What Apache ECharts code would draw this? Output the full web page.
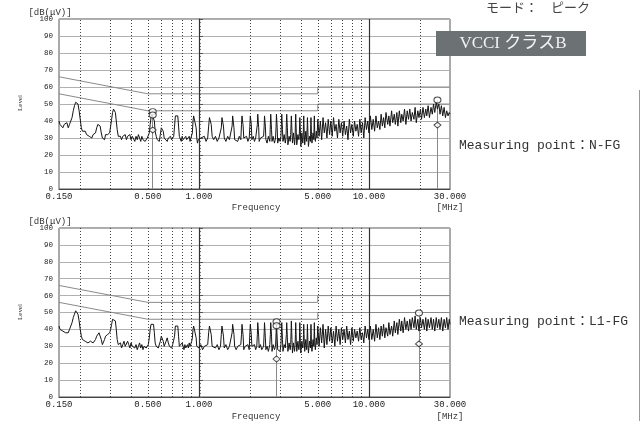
<!DOCTYPE html>
<html><head><meta charset="utf-8">
<script src="https://cdn.jsdelivr.net/npm/echarts@6/dist/echarts.min.js"></script>
<style>html,body{margin:0;padding:0;background:#fff}#c{width:643px;height:421px}</style>
</head><body><div id="c"></div>
<script>
// ---- axis ticks / limits ----
const tickFreqs = [0.15, 0.5, 1, 5, 10, 30];
const gridFreqsDotted = [0.2,0.3,0.4,0.5,0.6,0.7,0.8,0.9,2,3,4,5,6,7,8,9,20];
const gridFreqsSolid = [1, 10];
const limitQP = [[0.15,66],[0.5,56],[5,56],[5,60],[30,60]];
const limitAV = [[0.15,56],[0.5,46],[5,46],[5,50],[30,50]];

// ---- sweep frequencies (MHz) ----
const freqLow = [
0.150,0.152,0.155,0.158,0.161,0.164,0.167,0.170,0.173,0.176,
0.179,0.182,0.185,0.188,0.191,0.194,0.197,0.200,0.203,0.206,
0.210,0.214,0.218,0.222,0.226,0.230,0.234,0.238,0.242,0.246,
0.250,0.254,0.258,0.262,0.266,0.270,0.274,0.278,0.282,0.286,
0.290,0.294,0.298,0.302,0.306,0.310,0.314,0.318,0.322,0.326,
0.330,0.335,0.340,0.345,0.350,0.356,0.362,0.368,0.374,0.380,
0.386,0.392,0.398,0.405,0.412,0.419,0.426,0.433,0.440,0.447,
0.454,0.461,0.468,0.475,0.482,0.489,0.496,0.503,0.510,0.516,
0.522,0.528,0.534,0.540,0.546,0.552,0.560,0.568,0.576,0.584,
0.592,0.600,0.608,0.616,0.624,0.632,0.640,0.650,0.660,0.670,
0.680,0.690,0.700,0.710,0.718,0.726,0.734,0.742,0.750,0.758,
0.766,0.776,0.786,0.796,0.806,0.816,0.826,0.836,0.846,0.856,
0.866,0.876,0.886,0.896,0.906,0.914,0.922,0.930,0.938,0.946,
0.954,0.962,0.970,0.980,0.990];
const freqComb = [
1.000,1.025,1.050,1.075,1.100,1.125,
1.140,1.152,1.168,1.180,1.195, 1.220,1.250,1.280,1.310,1.338,
1.353,1.365,1.381,1.393,1.408, 1.440,1.475,1.510,1.550,
1.566,1.578,1.594,1.606,1.621, 1.655,1.690,1.725,1.762,
1.779,1.791,1.807,1.819,1.834, 1.870,1.905,1.940,1.975,
1.992,2.004,2.020,2.032,2.047, 2.085,2.120,2.155,2.188,
2.205,2.217,2.233,2.245,2.260, 2.300,2.340,2.400,
2.418,2.430,2.446,2.458,2.475, 2.515,2.560,2.610,
2.630,2.643,2.659,2.672,2.690, 2.730,2.780,2.822,
2.843,2.856,2.872,2.885,2.905, 2.950,3.000,3.035,
3.055,3.069,3.085,3.099,3.120, 3.170,3.220,3.250,
3.268,3.282,3.298,3.312,3.335, 3.390,3.440,3.465,
3.481,3.495,3.511,3.525,3.548, 3.600,3.650,3.678,
3.694,3.708,3.724,3.738,3.762, 3.820,3.870,3.891,
3.907,3.921,3.937,3.951,3.975, 4.030,4.080,4.104,
4.120,4.134,4.150,4.164,4.190, 4.250,4.300,4.317,
4.333,4.347,4.363,4.377,4.405, 4.470,4.530,
4.546,4.560,4.576,4.590,4.620, 4.690,4.743,
4.759,4.773,4.789,4.803,4.840, 4.900,4.950];
const freqHigh = [
5.00,5.09,5.18,5.27,5.37,5.46,5.56,5.66,5.76,5.87,
5.97,6.08,6.19,6.30,6.41,6.53,6.65,6.77,6.89,7.01,
7.14,7.27,7.40,7.53,7.67,7.80,7.94,8.09,8.23,8.38,
8.53,8.69,8.84,9.00,9.17,9.33,9.50,9.67,9.85,10.0,
10.2,10.4,10.6,10.8,11.0,11.2,11.4,11.6,11.8,12.0,
12.2,12.4,12.6,12.9,13.1,13.3,13.6,13.8,14.1,14.3,
14.6,14.8,15.1,15.4,15.6,15.9,16.2,16.5,16.8,17.1,
17.4,17.7,18.0,18.4,18.7,19.0,19.4,19.7,20.1,20.4,
20.8,21.2,21.6,21.9,22.3,22.7,23.2,23.6,24.0,24.4,
24.9,25.3,25.8,26.2,26.7,27.2,27.7,28.2,28.7,29.2,
29.7,30.0];

// ---- N-FG levels dB(uV) ----
const nfgLow = [
40,38,39,36,38,37,39,36,38,39,
42,46,49,51,52,50,46,41,36,34,
33,34,32,33,31,32,30,32,31,33,
36,38,39,37,33,30,31,29,32,31,
32,31,33,37,41,45,47,47,45,40,
35,31,30,31,29,31,30,32,29,31,
30,32,29,31,30,28,31,29,32,30,
28,31,29,30,28,29,30,29,33,38,
42,44,45,44,40,34,31,29,30,28,
32,36,37,34,30,29,31,28,30,29,
31,29,30,31,37,43,44,44,43,37,
31,30,28,31,29,30,28,31,29,28,
30,31,28,30,30,33,40,43,44,44,
42,36,30,27,29];
const nfgComb = [
28,30,29,31,28,30,
37,42,43,38,31, 29,31,28,30,29,
36,42,43,37,30, 28,31,29,30,
37,43,42,36,29, 30,28,31,29,
38,43,43,37,30, 29,31,28,30,
37,43,44,38,29, 31,28,30,29,
38,44,43,36,28, 30,29,31,
37,43,44,37,29, 27,31,28,
38,44,44,35,28, 31,27,30,
37,44,45,36,27, 30,28,31,
38,44,43,35,28, 32,27,30,
39,44,45,36,26, 31,28,32,
38,43,44,34,27, 33,26,30,
39,44,43,33,26, 32,29,31,
37,42,43,34,25, 33,27,30,
38,43,42,32,26, 34,28,29,
37,42,43,33,25, 31,28,
38,42,41,32,27, 33,29,
39,43,42,31,28, 34,30];
const nfgHigh = [
41,31,40,29,42,33,39,30,41,32,
40,31,42,34,38,30,41,33,39,31,
40,32,37,29,41,33,38,31,40,34,
38,31,41,33,39,30,42,35,40,33,
43,35,41,34,43,36,40,35,44,37,
42,36,45,38,43,37,46,39,44,38,
45,37,46,39,44,40,47,38,46,41,
47,40,45,41,48,39,46,42,47,41,
48,42,47,43,49,42,48,44,50,45,
51,47,50,44,49,43,48,42,46,43,
45,44];

// ---- L1-FG levels dB(uV) ----
const l1Low = [
42,40,41,39,40,38,37,38,40,42,
44,47,49,51,51,49,45,40,36,34,
34,33,34,32,33,33,34,32,33,34,
36,37,38,37,34,31,32,34,36,37,
37,38,38,40,43,46,47,47,45,40,
34,31,30,32,29,31,33,30,31,33,
31,29,32,30,31,29,31,28,30,32,
29,31,28,30,29,29,30,31,35,40,
43,44,44,43,38,32,30,31,29,30,
33,36,37,33,30,31,33,35,32,30,
30,29,31,30,36,42,43,43,42,36,
30,31,29,32,30,28,31,29,30,31,
29,32,30,31,33,35,40,42,43,43,
41,35,30,29,30];
const l1Comb = [
29,31,28,30,29,31,
38,42,42,37,30, 30,29,31,28,30,
37,42,43,36,29, 31,28,30,29,
38,43,43,37,30, 28,30,29,31,
37,43,42,36,28, 30,29,31,28,
38,43,43,37,30, 29,31,28,30,
37,44,44,36,29, 31,28,30,
38,44,43,35,28, 30,27,31,
37,44,45,36,27, 31,28,30,
38,44,45,35,28, 29,27,31,
38,44,44,34,27, 31,29,30,
37,44,45,35,27, 32,28,31,
38,45,44,34,26, 32,27,31,
37,44,45,33,27, 33,28,30,
38,44,43,32,26, 33,29,31,
37,43,44,33,27, 34,28,30,
38,43,42,32,26, 33,29,
37,43,44,31,27, 34,30,
38,44,43,32,28, 35,31];
const l1High = [
42,30,41,32,43,29,40,31,42,33,
41,32,39,30,42,33,40,31,41,34,
40,32,42,34,39,31,41,33,40,35,
39,33,41,34,38,32,42,35,40,34,
42,34,40,33,43,35,41,34,42,36,
43,35,41,36,44,37,42,36,45,38,
44,37,46,39,45,38,47,40,45,39,
46,40,47,41,48,40,46,39,47,41,
46,40,47,39,46,41,47,40,46,39,
47,41,46,40,47,39,46,41,47,40,
46,43];

// ---- markers ----
const nfgQpMarks = [[0.534,45.5],[0.534,43.5],[25.3,52.4]];
const nfgAvMarks = [[0.534,34.7],[25.3,37.6]];
const l1QpMarks = [[2.86,44.5],[2.86,42.2],[19.7,49.7]];
const l1AvMarks = [[2.86,22.5],[19.7,31.4]];

// ---- build ----
function zip(f, v){ if (f.length !== v.length) console.warn('len', f.length, v.length); return f.map((x,i)=>[x, v[i]]); }
const nfgData = zip(freqLow,nfgLow).concat(zip(freqComb,nfgComb), zip(freqHigh,nfgHigh));
const l1Data = zip(freqLow,l1Low).concat(zip(freqComb,l1Comb), zip(freqHigh,l1High));

function markerLines(marks){
  const top = {};
  marks.forEach(m => { top[m[0]] = Math.max(top[m[0]] || 0, m[1]); });
  return Object.keys(top).map(f => [{coord:[+f, top[f]]},{coord:[+f, 0]}]);
}
const gridLineData = gridFreqsDotted.map(f => ({xAxis:f, lineStyle:{type:[1,2], color:'#444', width:1}}))
  .concat(gridFreqsSolid.map(f => ({xAxis:f, lineStyle:{type:'solid', color:'#333', width:1.2}})));

const MONO = '"Liberation Mono", "DejaVu Sans Mono", monospace';
const grids = [
  {left:59, top:19, width:391, height:170},
  {left:59, top:228, width:391, height:169}
];
const xAxes = [], yAxes = [], series = [];
const traces = [nfgData, l1Data];
const qpMarks = [nfgQpMarks, l1QpMarks];
const avMarks = [nfgAvMarks, l1AvMarks];
grids.forEach((g, i) => {
  g.show = true; g.borderColor = '#555'; g.borderWidth = 1;
  xAxes.push({type:'log', gridIndex:i, min:0.15, max:30, logBase:10,
    axisLine:{show:true, onZero:false, lineStyle:{color:'#444'}}, axisTick:{show:false},
    axisLabel:{show:false}, splitLine:{show:false}});
  xAxes.push({type:'value', gridIndex:i, min:Math.log10(0.15), max:Math.log10(30), position:'bottom',
    axisLine:{show:false}, axisTick:{show:false}, splitLine:{show:false},
    axisLabel:{customValues: tickFreqs.map(Math.log10), formatter: v => Math.pow(10, v).toFixed(3),
      margin:3, fontSize:9, fontFamily:MONO, color:'#222', hideOverlap:false}});
  yAxes.push({type:'value', gridIndex:i, min:0, max:100, interval:10,
    axisLine:{show:true, lineStyle:{color:'#444'}},
    axisTick:{show:true, inside:true, length:4, lineStyle:{color:'#555'}},
    minorTick:{show:true, splitNumber:5, length:2, lineStyle:{color:'#777'}},
    splitLine:{show:true, lineStyle:{color:'#b0b0b0', width:1}},
    axisLabel:{fontSize:7.5, fontFamily:MONO, color:'#222', margin:6}});
  const xi = i*2;
  series.push({type:'line', xAxisIndex:xi, yAxisIndex:i, data:limitQP, showSymbol:false, silent:true,
    lineStyle:{color:'#8a8a8a', width:1}, z:3,
    markLine:{silent:true, symbol:['none','none'], label:{show:false}, animation:false, data:gridLineData}});
  series.push({type:'line', xAxisIndex:xi, yAxisIndex:i, data:limitAV, showSymbol:false, silent:true,
    lineStyle:{color:'#8a8a8a', width:1}, z:3});
  series.push({type:'line', xAxisIndex:xi, yAxisIndex:i, data:traces[i], showSymbol:false, silent:true,
    lineStyle:{color:'#151515', width:1}, z:5});
  series.push({type:'scatter', xAxisIndex:xi, yAxisIndex:i, data:qpMarks[i], symbol:'circle', symbolSize:[7,6],
    itemStyle:{color:'#fff', borderColor:'#222', borderWidth:1}, z:7, silent:true,
    markLine:{silent:true, symbol:['none','none'], label:{show:false}, animation:false,
      lineStyle:{type:'solid', color:'#8a8a8a', width:1}, data:markerLines(qpMarks[i])}});
  series.push({type:'scatter', xAxisIndex:xi, yAxisIndex:i, data:avMarks[i], symbol:'diamond', symbolSize:[7,6],
    itemStyle:{color:'#fff', borderColor:'#222', borderWidth:1}, z:7, silent:true});
});

const graphics = [
  {type:'text', x:538, y:7, style:{text:'モード：　ピーク', font:'13px "Noto Sans CJK JP"', fill:'#444', align:'center', verticalAlign:'middle'}},
  {type:'rect', shape:{x:436, y:31, width:150, height:25}, style:{fill:'#6c7174'}, z:100},
  {type:'text', x:513, y:44, z:101, style:{text:'VCCI クラスB', font:'17px "Liberation Serif", "Noto Sans CJK JP"', fill:'#f2f2f2', align:'center', verticalAlign:'middle'}},
  {type:'line', shape:{x1:639.5, y1:90, x2:639.5, y2:421}, style:{stroke:'#999', lineWidth:1}}
];
[0, 209].forEach((dy, i) => {
  graphics.push({type:'text', x:50, y:12.5+dy, style:{text:'[dB(μV)]', font:'9px ' + MONO, fill:'#333', align:'center', verticalAlign:'middle'}});
  graphics.push({type:'text', x:20, y:103+dy, rotation:Math.PI/2, style:{text:'Level', font:'7px "Liberation Serif"', fill:'#333', align:'center', verticalAlign:'middle'}});
  graphics.push({type:'text', x:256, y:208+dy, style:{text:'Frequency', font:'9px ' + MONO, fill:'#333', align:'center', verticalAlign:'middle'}});
  graphics.push({type:'text', x:450, y:208+dy, style:{text:'[MHz]', font:'9px ' + MONO, fill:'#333', align:'center', verticalAlign:'middle'}});
});
graphics.push({type:'text', x:459, y:146, style:{text:'Measuring point：N-FG', font:'13px ' + MONO + ', "Noto Sans CJK JP"', fill:'#333', align:'left', verticalAlign:'middle'}});
graphics.push({type:'text', x:459, y:322, style:{text:'Measuring point：L1-FG', font:'13px ' + MONO + ', "Noto Sans CJK JP"', fill:'#333', align:'left', verticalAlign:'middle'}});

const chart = echarts.init(document.getElementById('c'), null, {renderer:'canvas'});
chart.setOption({
  animation:false,
  backgroundColor:'#fff',
  grid:grids, xAxis:xAxes, yAxis:yAxes, series:series, graphic:graphics
});
</script></body></html>
